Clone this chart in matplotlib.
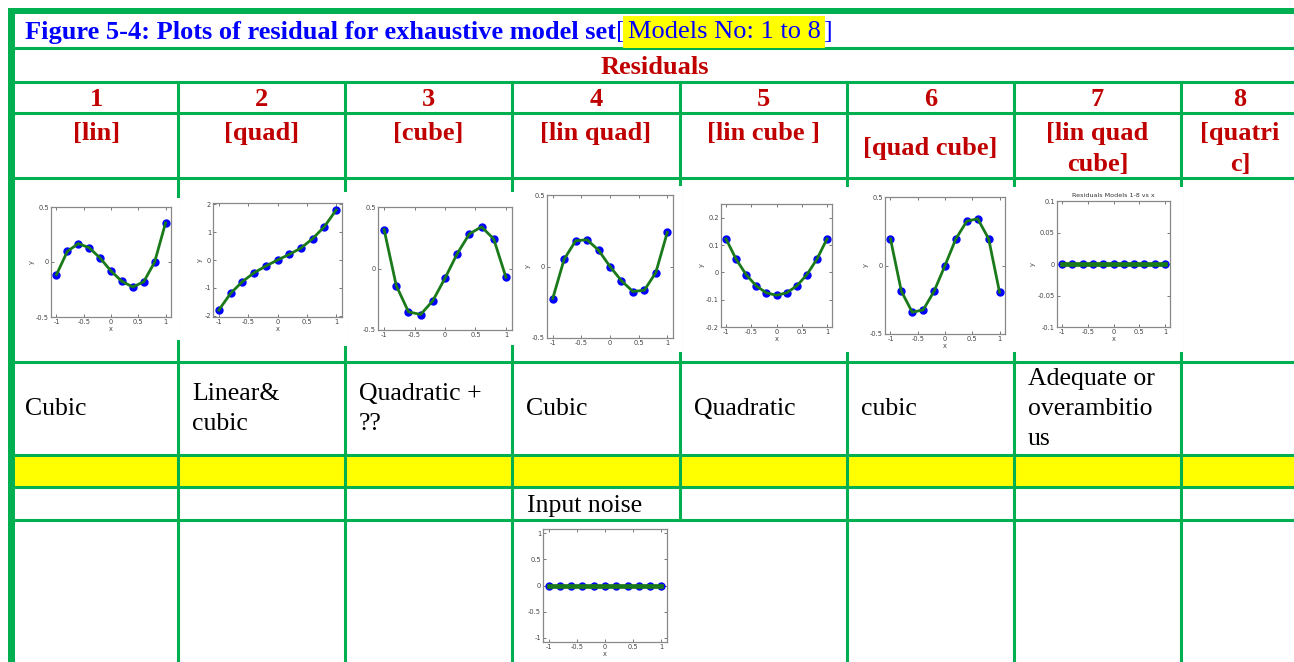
import matplotlib.pyplot as plt
from matplotlib.patches import Rectangle
from matplotlib.ticker import FormatStrFormatter

W, H = 1294, 662

# ---- data ----
x_pts = [-1.0, -0.8, -0.6, -0.4, -0.2, 0.0, 0.2, 0.4, 0.6, 0.8, 1.0]
res_m1 = [-0.115, 0.097, 0.167, 0.13, 0.036, -0.082, -0.176, -0.227, -0.18, 0.0, 0.355]
res_m2 = [-1.8, -1.2, -0.78, -0.46, -0.22, 0.0, 0.2, 0.43, 0.77, 1.2, 1.8]
res_m3 = [0.317, -0.139, -0.352, -0.374, -0.262, -0.079, 0.12, 0.281, 0.339, 0.24, -0.071]
res_m4 = [-0.224, 0.051, 0.18, 0.187, 0.114, 0.0, -0.1, -0.175, -0.166, -0.042, 0.238]
res_m5 = [0.122, 0.048, -0.009, -0.05, -0.075, -0.084, -0.075, -0.05, -0.009, 0.048, 0.122]
res_m6 = [0.195, -0.188, -0.341, -0.324, -0.188, 0.0, 0.195, 0.324, 0.341, 0.195, -0.195]
res_m7 = [0.0] * 11
res_noise = [0.0] * 11

model_nums = ['1', '2', '3', '4', '5', '6', '7', '8']
model_names = ['[lin]', '[quad]', '[cube]', '[lin quad]', '[lin cube ]',
               '[quad cube]', '[lin quad\ncube]', '[quatri\nc]']
descriptions = ['Cubic', 'Linear&\ncubic', 'Quadratic +\n??', 'Cubic', 'Quadratic',
                'cubic', 'Adequate or\noverambitio\nus', '']

GREEN = '#00b050'
RED = '#c00000'
SERIF = 'Liberation Serif'
HEAD_FS = 19

fig = plt.figure(figsize=(W / 100, H / 100), dpi=100)
bg = fig.add_axes([0, 0, 1, 1])
bg.set_xlim(0, W)
bg.set_ylim(H, 0)
bg.axis('off')

# table grid
col_x = [15, 178, 345, 512, 680, 847, 1014, 1181, 1294]
row_y = [48, 82, 113, 178, 362, 455, 487, 520]

bg.add_patch(Rectangle((15, 455), W - 15, 32, facecolor='#ffff00', edgecolor='none', zorder=0))
for y in row_y:
    bg.plot([15, W], [y, y], color=GREEN, lw=2.2, zorder=1)
for x in col_x[1:-1]:
    bg.plot([x, x], [82, H], color=GREEN, lw=2.2, zorder=1)
bg.add_patch(Rectangle((8, 8), W - 8, 6, facecolor=GREEN, edgecolor='none', zorder=2))
bg.add_patch(Rectangle((8, 8), 7, H - 8, facecolor=GREEN, edgecolor='none', zorder=2))

# title, pieced together so the highlight sits only on the model range
t1 = bg.text(25, 32, 'Figure 5-4: Plots of residual for exhaustive model set', color='#0000ff',
             fontsize=HEAD_FS, fontweight='bold', family=SERIF, va='center', ha='left')
fig.canvas.draw()
x_next = t1.get_window_extent().x1
t2 = bg.text(x_next, 32, '[', color='#0000ff', fontsize=HEAD_FS, family=SERIF, va='center', ha='left')
fig.canvas.draw()
x_next = t2.get_window_extent().x1
t3 = bg.text(x_next + 3, 32, 'Models No: 1 to 8', color='#0000ff', fontsize=HEAD_FS, family=SERIF,
             va='center', ha='left',
             bbox=dict(facecolor='#ffff00', edgecolor='none', pad=3.5))
fig.canvas.draw()
x_next = t3.get_window_extent().x1
bg.text(x_next + 3, 32, ']', color='#0000ff', fontsize=HEAD_FS, family=SERIF, va='center', ha='left')

bg.text(655, 67, 'Residuals', color=RED, fontsize=HEAD_FS, fontweight='bold', family=SERIF,
        ha='center', va='center')

centers = [(col_x[i] + col_x[i + 1]) / 2 for i in range(8)]
centers[-1] = 1240
for i, c in enumerate(centers):
    bg.text(c, 100, model_nums[i], color=RED, fontsize=HEAD_FS, fontweight='bold', family=SERIF,
            ha='center', va='center')
    if i == 5:
        bg.text(c, 148, model_names[i], color=RED, fontsize=HEAD_FS, fontweight='bold', family=SERIF,
                ha='center', va='center')
    else:
        bg.text(c, 122, model_names[i], color=RED, fontsize=HEAD_FS, fontweight='bold', family=SERIF,
                ha='center', va='top', linespacing=1.45)
    left = col_x[i] + (10 if i == 0 else 14)
    bg.text(left, 409, descriptions[i], color='black', fontsize=18.5, family=SERIF,
            ha='left', va='center', linespacing=1.47)

bg.text(527, 506, 'Input noise', color='black', fontsize=18.5, family=SERIF, ha='left', va='center')

# white picture areas that hide parts of the grid
pic_areas = [(20, 198, 180, 340), (182, 192, 347, 346), (349, 192, 516, 345),
             (516, 186, 682, 352), (684, 187, 850, 352), (850, 187, 1016, 352),
             (1016, 187, 1183, 352), (530, 522, 684, H)]
for x0, y0, x1, y1 in pic_areas:
    bg.add_patch(Rectangle((x0, y0), x1 - x0, y1 - y0, facecolor='white', edgecolor='none', zorder=3))


def px_axes(x0, y0, x1, y1):
    return fig.add_axes([x0 / W, 1 - y1 / H, (x1 - x0) / W, (y1 - y0) / H])


def resid_plot(box, yvals, ylim, yticks, fmt, xlabel=True, ylabel=True, title=None, flat=False):
    ax = px_axes(*box)
    ax.plot(x_pts, yvals, 'o', color='#0000ff', markersize=5, zorder=2)
    ax.plot(x_pts, yvals, '-', color='#1a7a1a', lw=3.4 if flat else 2.0, zorder=3)
    ax.set_xlim(-1.1, 1.1)
    ax.set_ylim(*ylim)
    ax.set_xticks([-1, -0.5, 0, 0.5, 1])
    ax.set_xticklabels(['-1', '-0.5', '0', '0.5', '1'])
    ax.set_yticks(yticks)
    ax.yaxis.set_major_formatter(FormatStrFormatter(fmt))
    ax.tick_params(direction='in', length=2, width=0.5, labelsize=4.8, colors='#444444',
                   top=True, right=True, pad=1.5)
    for s in ax.spines.values():
        s.set_color('#888888')
        s.set_linewidth(0.9)
    if xlabel:
        ax.set_xlabel('x', fontsize=4.8, color='#444444', labelpad=1)
    if ylabel:
        ax.set_ylabel('y', fontsize=4.8, color='#444444', labelpad=1)
    if title:
        ax.set_title(title, fontsize=4.6, color='#333333', pad=3)
    return ax


resid_plot((51, 207, 171, 317), res_m1, (-0.5, 0.5), [-0.5, 0, 0.5], '%g')
resid_plot((213, 203, 342, 317), res_m2, (-2.05, 2.05), [-2, -1, 0, 1, 2], '%g')
resid_plot((378, 207, 512, 330), res_m3, (-0.5, 0.5), [-0.5, 0, 0.5], '%g', xlabel=False, ylabel=False)
resid_plot((547, 195, 673, 338), res_m4, (-0.5, 0.5), [-0.5, 0, 0.5], '%g', xlabel=False)
resid_plot((721, 204, 832, 327), res_m5, (-0.2, 0.25), [-0.2, -0.1, 0, 0.1, 0.2], '%g')
resid_plot((885, 197, 1005, 334), res_m6, (-0.5, 0.5), [-0.5, 0, 0.5], '%g')
resid_plot((1057, 201, 1170, 327), res_m7, (-0.1, 0.1), [-0.1, -0.05, 0, 0.05, 0.1], '%g',
           title='Residuals Models 1-8 vs x', flat=True)
resid_plot((543, 529, 667, 642), res_noise, (-1.08, 1.08), [-1, -0.5, 0, 0.5, 1], '%g',
           ylabel=False, flat=True)

fig.savefig('out.png', dpi=100)
